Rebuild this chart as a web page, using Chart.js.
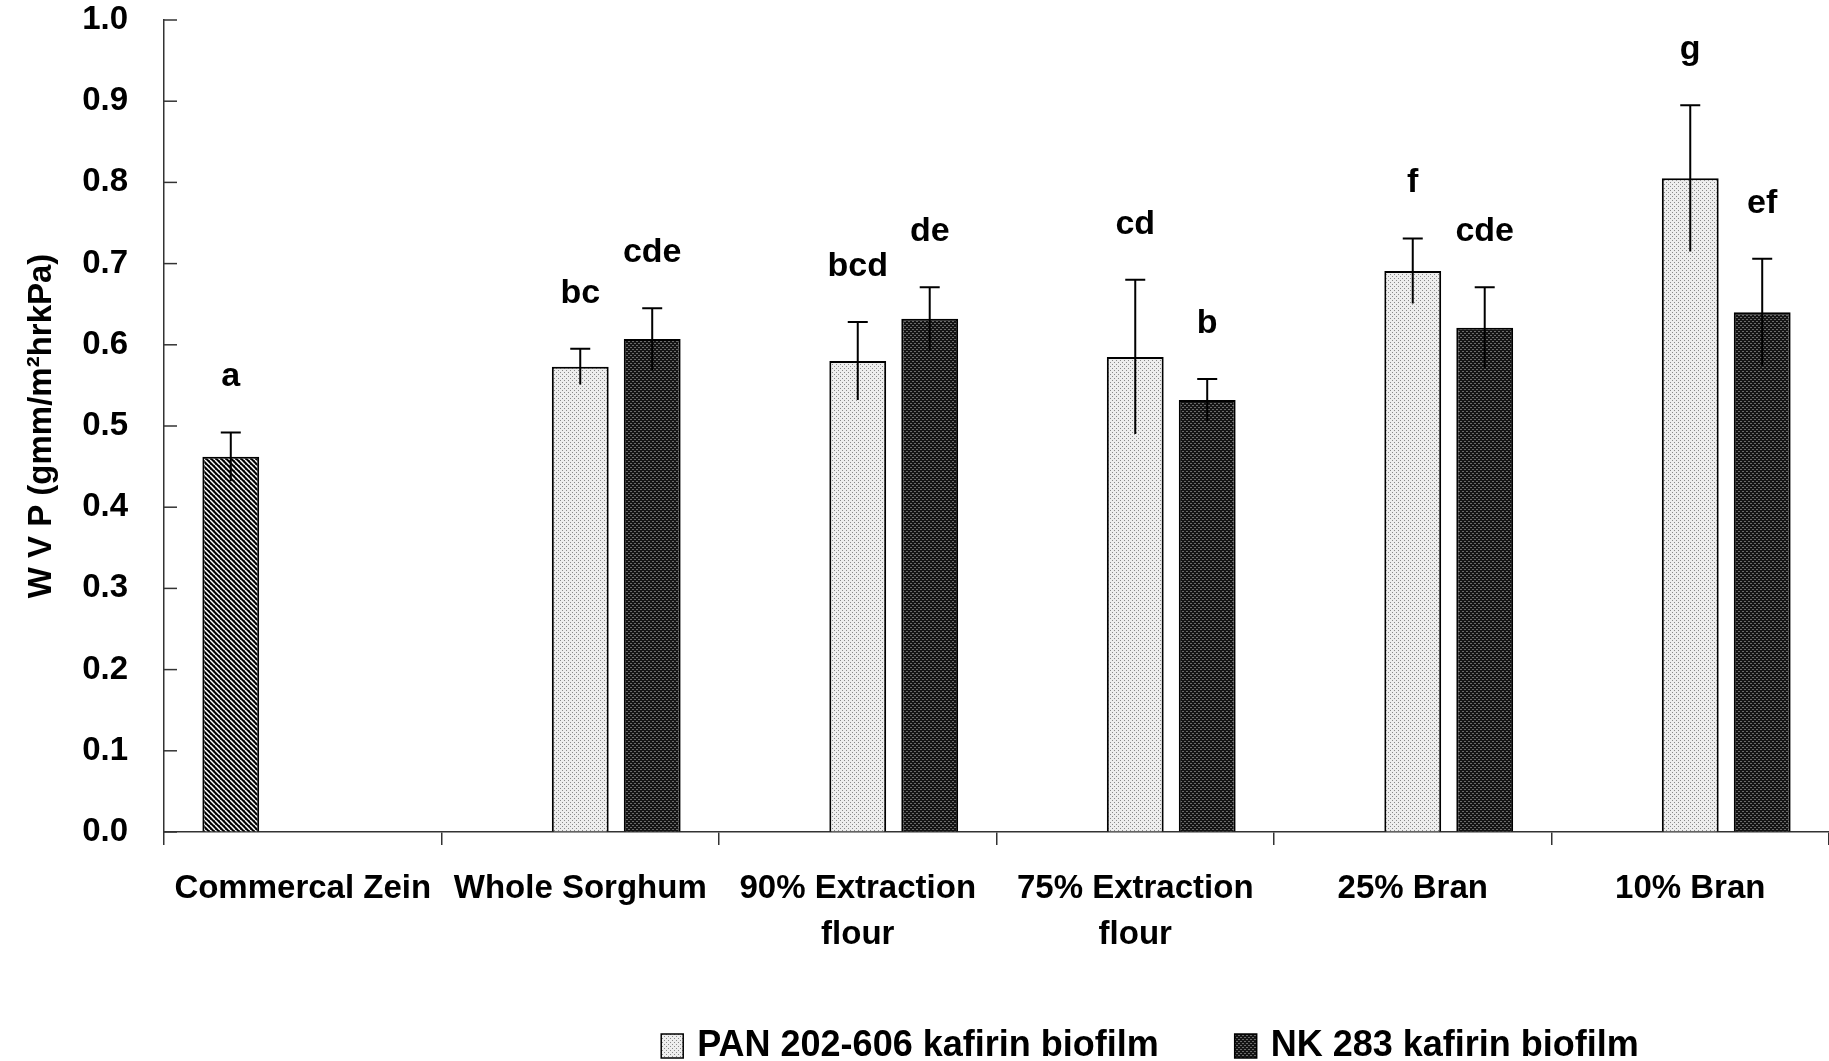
<!DOCTYPE html>
<html>
<head>
<meta charset="utf-8">
<title>WVP of kafirin biofilms</title>
<script src="https://cdn.jsdelivr.net/npm/chart.js@4.4.0/dist/chart.umd.min.js"></script>
<style>
    html, body { margin: 0; padding: 0; background: #ffffff; }
    #wrap { position: relative; width: 1829px; height: 1061px; }
</style>
</head>
<body>
<div id="wrap"><canvas id="wvpChart"></canvas></div>
<script>
// Values
const categories = [
    ['Commercal Zein'],
    ['Whole Sorghum'],
    ['90% Extraction', 'flour'],
    ['75% Extraction', 'flour'],
    ['25% Bran'],
    ['10% Bran']
];
const seriesNames = ['Commercial zein', 'PAN 202-606 kafirin biofilm', 'NK 283 kafirin biofilm'];

const zeinValues = [0.462, null, null, null, null, null];
const panValues  = [null, 0.573, 0.580, 0.585, 0.691, 0.805];
const nkValues   = [null, 0.607, 0.632, 0.532, 0.621, 0.640];

const zeinErrors = [0.030, null, null, null, null, null];
const panErrors  = [null, 0.022, 0.048, 0.095, 0.040, 0.090];
const nkErrors   = [null, 0.038, 0.039, 0.026, 0.050, 0.066];

const zeinLetters = ['a', null, null, null, null, null];
const panLetters  = [null, 'bc', 'bcd', 'cd', 'f', 'g'];
const nkLetters   = [null, 'cde', 'de', 'b', 'cde', 'ef'];

const yMin = 0;
const yMax = 1.0;
const yStep = 0.1;
const yTitle = 'W V P (gmm/m\u00b2hrkPa)';

const FONT = '"Liberation Sans", Arial, sans-serif';

// Layout bits (pixels)
const PLOT_TOP = 20;
const PLOT_BOTTOM = 832;
const LEGEND_SPACE = 90;
const LEGEND_CENTER_X = 1150;
const LEGEND_Y = 1046;

// Small repeating fills, like the old Excel patterns
function makePattern(size, paint) {
    const c = document.createElement('canvas');
    c.width = size;
    c.height = size;
    const g = c.getContext('2d');
    paint(g, size);
    return g.createPattern(c, 'repeat');
}

const hatchFill = makePattern(5, (g, s) => {
    g.fillStyle = '#000000';
    g.fillRect(0, 0, s, s);
    g.strokeStyle = '#ffffff';
    g.lineWidth = 1.5;
    for (const k of [-s, 0, s]) {
        g.beginPath();
        g.moveTo(k, 0);
        g.lineTo(k + s, s);
        g.stroke();
    }
});

const lightDots = makePattern(4, (g, s) => {
    g.fillStyle = '#eeeeee';
    g.fillRect(0, 0, s, s);
    g.fillStyle = '#8a8a8a';
    g.fillRect(0, 0, 1, 1);
    g.fillRect(2, 2, 1, 1);
});

const darkDots = makePattern(4, (g, s) => {
    g.fillStyle = '#141414';
    g.fillRect(0, 0, s, s);
    g.fillStyle = '#6a6a6a';
    g.fillRect(0, 1, 2, 1);
    g.fillRect(2, 3, 2, 1);
});

// Error bars (cap on top only) and the significance letters
const errorBarPlugin = {
    id: 'errorBars',
    afterDatasetsDraw(chart) {
        const ctx = chart.ctx;
        const yScale = chart.scales.y;
        ctx.save();
        chart.data.datasets.forEach((ds, i) => {
            const meta = chart.getDatasetMeta(i);
            meta.data.forEach((bar, j) => {
                const v = ds.data[j];
                const e = ds.errors[j];
                if (v == null || e == null) return;
                const yTop = yScale.getPixelForValue(v + e);
                const yBot = yScale.getPixelForValue(v - e);
                ctx.strokeStyle = '#000000';
                ctx.lineWidth = 2;
                ctx.beginPath();
                ctx.moveTo(bar.x, yBot);
                ctx.lineTo(bar.x, yTop);
                ctx.moveTo(bar.x - 10, yTop);
                ctx.lineTo(bar.x + 10, yTop);
                ctx.stroke();

                const letter = ds.letters[j];
                if (letter) {
                    ctx.fillStyle = '#000000';
                    ctx.font = 'bold 34px ' + FONT;
                    ctx.textAlign = 'center';
                    ctx.textBaseline = 'alphabetic';
                    ctx.fillText(letter, bar.x, yTop - 46);
                }
            });
        });
        ctx.restore();
    }
};

// Short tick marks pointing into the plot on the value axis
const innerTicksPlugin = {
    id: 'innerTicks',
    afterDraw(chart) {
        const ctx = chart.ctx;
        const yScale = chart.scales.y;
        const x0 = chart.chartArea.left;
        ctx.save();
        ctx.strokeStyle = '#333333';
        ctx.lineWidth = 1.5;
        yScale.ticks.forEach(t => {
            const y = yScale.getPixelForValue(t.value);
            ctx.beginPath();
            ctx.moveTo(x0, y);
            ctx.lineTo(x0 + 13, y);
            ctx.stroke();
        });
        ctx.restore();
    }
};

// Legend drawn by hand: it sits right of centre in the original
const legendPlugin = {
    id: 'bottomLegend',
    afterDraw(chart) {
        const ctx = chart.ctx;
        const items = chart.data.datasets.filter(ds => ds.inLegend);
        const boxW = 22, boxH = 24, textGap = 14, itemGap = 76;
        ctx.save();
        ctx.font = 'bold 36px ' + FONT;
        const widths = items.map(ds => boxW + textGap + ctx.measureText(ds.label).width);
        const total = widths.reduce((a, b) => a + b, 0) + itemGap * (items.length - 1);
        let x = LEGEND_CENTER_X - total / 2;
        items.forEach((ds, i) => {
            ctx.fillStyle = ds.backgroundColor;
            ctx.fillRect(x, LEGEND_Y - boxH / 2, boxW, boxH);
            ctx.strokeStyle = '#000000';
            ctx.lineWidth = 1.5;
            ctx.strokeRect(x, LEGEND_Y - boxH / 2, boxW, boxH);
            ctx.fillStyle = '#000000';
            ctx.textAlign = 'left';
            ctx.textBaseline = 'middle';
            ctx.fillText(ds.label, x + boxW + textGap, LEGEND_Y);
            x += widths[i] + itemGap;
        });
        ctx.restore();
    }
};

const ctx = document.getElementById('wvpChart').getContext('2d');

new Chart(ctx, {
    type: 'bar',
    data: {
        labels: categories,
        datasets: [
            {
                label: seriesNames[0],
                data: zeinValues,
                errors: zeinErrors,
                letters: zeinLetters,
                inLegend: false,
                backgroundColor: hatchFill,
                borderColor: '#000000',
                borderWidth: 2
            },
            {
                label: seriesNames[1],
                data: panValues,
                errors: panErrors,
                letters: panLetters,
                inLegend: true,
                backgroundColor: lightDots,
                borderColor: '#000000',
                borderWidth: 2
            },
            {
                label: seriesNames[2],
                data: nkValues,
                errors: nkErrors,
                letters: nkLetters,
                inLegend: true,
                backgroundColor: darkDots,
                borderColor: '#000000',
                borderWidth: 2
            }
        ]
    },
    options: {
        responsive: true,
        maintainAspectRatio: false,
        animation: false,
        categoryPercentage: 0.778,
        barPercentage: 0.79,
        layout: {
            padding: { top: PLOT_TOP, right: 0, bottom: LEGEND_SPACE, left: 0 }
        },
        plugins: {
            tooltip: { enabled: false },
            legend: { display: false }
        },
        scales: {
            x: {
                afterFit: scale => { scale.height = 1061 - PLOT_BOTTOM - LEGEND_SPACE; },
                grid: {
                    display: true,
                    drawOnChartArea: false,
                    drawTicks: true,
                    tickLength: 13,
                    offset: true,
                    color: '#333333',
                    lineWidth: 1.5
                },
                border: { display: true, color: '#333333', width: 1.5 },
                ticks: {
                    color: '#000000',
                    font: { family: FONT, size: 33, weight: 'bold', lineHeight: 1.42 },
                    padding: 20,
                    maxRotation: 0,
                    autoSkip: false
                }
            },
            y: {
                min: yMin,
                max: yMax,
                afterFit: scale => { scale.width = 164; },
                grid: {
                    display: true,
                    drawOnChartArea: false,
                    drawTicks: true,
                    tickLength: 36,
                    tickColor: 'rgba(0,0,0,0)'
                },
                border: { display: true, color: '#333333', width: 1.5 },
                ticks: {
                    stepSize: yStep,
                    color: '#000000',
                    font: { family: FONT, size: 33, weight: 'bold' },
                    padding: 0,
                    callback: v => Number(v).toFixed(1)
                },
                title: {
                    display: true,
                    text: yTitle,
                    color: '#000000',
                    font: { family: FONT, size: 33, weight: 'bold' },
                    padding: { top: 22, bottom: 0 }
                }
            }
        }
    },
    plugins: [errorBarPlugin, innerTicksPlugin, legendPlugin]
});
</script>
</body>
</html>
